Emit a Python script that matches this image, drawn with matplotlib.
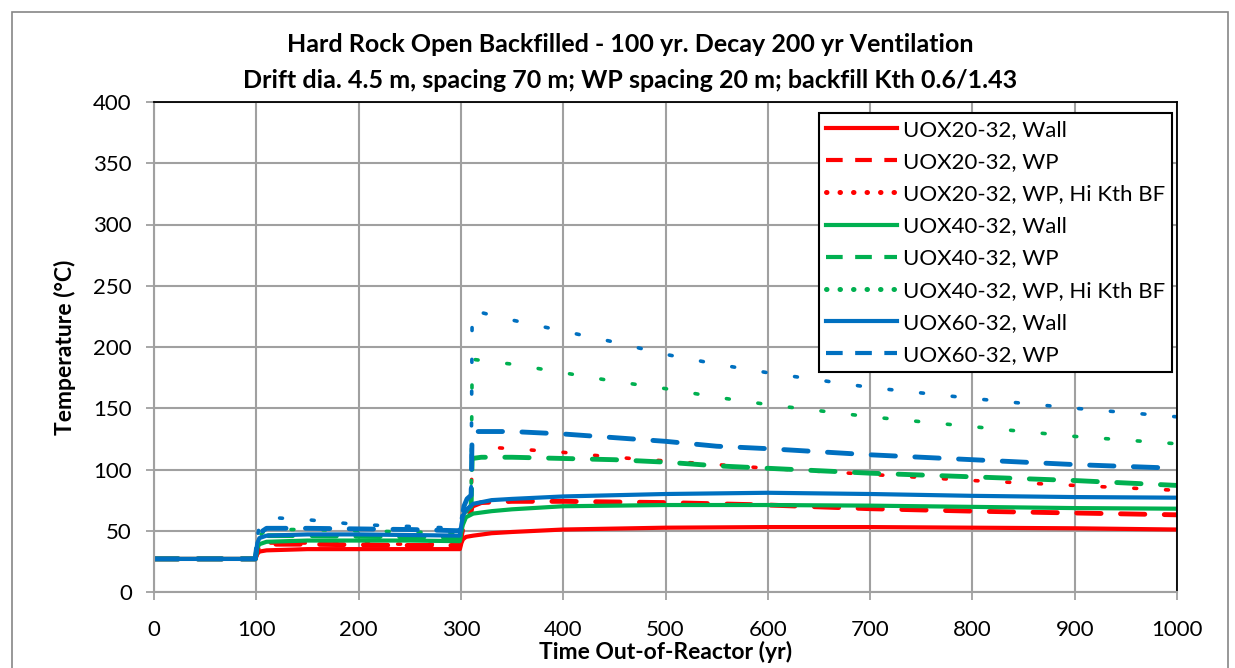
import matplotlib
matplotlib.use("Agg")
from matplotlib import pyplot as plt
from matplotlib.lines import Line2D
from matplotlib.patches import Rectangle

plt.rcParams['font.family'] = ['Lato', 'DejaVu Sans']

# tiempos (yr) y temperaturas (C)
t_wall = [0, 99, 101, 103, 110, 150, 200, 250, 299, 300.5, 302, 305, 312, 330, 350, 400, 500, 600, 700, 800, 900, 1000]
uox20_wall = [27, 27, 31, 33, 34, 35, 35, 35, 35, 40, 43, 45, 46, 48, 49, 51, 52.5, 53, 53, 52.5, 52, 51]
uox40_wall = [27, 27, 36, 39, 41, 42, 42, 42, 41.5, 50, 55, 61, 64, 66, 67.5, 70, 71, 71, 70.5, 69.5, 68.5, 68]
uox60_wall = [27, 27, 40, 44, 46, 47, 47, 46.5, 46, 55, 62, 67, 72, 75, 76, 78, 80, 81, 80, 78.5, 77.5, 77]

t_wp = [0, 99, 101, 103, 110, 150, 200, 250, 299, 301, 303, 306, 310, 311, 320, 350, 400, 450, 500, 550, 600, 700, 800, 900, 1000]
uox20_wp = [27, 27, 34, 37, 39, 39, 38.5, 38, 38, 48, 56, 62, 66, 70, 73, 74, 74, 73.5, 73, 72, 71, 68, 66, 64.5, 63]
uox40_wp = [27, 27, 38, 43, 46, 46, 45.5, 45, 44.5, 55, 62, 67, 70, 109, 110, 110, 109, 108, 106, 103, 101, 97, 94, 91, 87]
uox60_wp = [27, 27, 42, 48, 52, 52, 51.5, 51, 50, 60, 70, 76, 79, 131, 131, 131, 129, 126, 123, 119, 117, 112, 108, 104, 101]

t_hk = [0, 99, 101, 103, 110, 130, 150, 200, 250, 299, 301, 303, 306, 310, 311, 330, 350, 400, 450, 500, 550, 600, 700, 800, 900, 1000]
uox20_hk = [27, 27, 35, 38, 40, 40, 40, 39.5, 39, 39, 48, 55, 60, 63, 119, 118, 117, 114, 110, 107, 104, 101, 96, 91, 87, 83]
uox40_hk = [27, 27, 40, 46, 51, 51, 51, 50, 49, 48, 58, 65, 69, 71, 190, 188, 186, 179, 172, 166, 159, 153, 143, 135, 127, 121]
uox60_hk = [27, 27, 45, 54, 61, 60, 59, 55, 53.5, 52, 62, 72, 77, 80, 230, 226, 222, 213, 204, 194, 186, 179, 167, 158, 150, 143]

rojo = '#FF0000'
verde = '#00B050'
azul = '#0070C0'

dash_wp = (0, (5, 4))
dot_hk = (0, (0.8, 8))

fig = plt.figure(figsize=(12.35, 6.68), dpi=100)
ax = fig.add_axes([154/1235, 76/668, 1023/1235, 490/668])

series = [
    (t_wall, uox20_wall, rojo, 'wall'), (t_wp, uox20_wp, rojo, 'wp'), (t_hk, uox20_hk, rojo, 'hk'),
    (t_wall, uox40_wall, verde, 'wall'), (t_wp, uox40_wp, verde, 'wp'), (t_hk, uox40_hk, verde, 'hk'),
    (t_wall, uox60_wall, azul, 'wall'), (t_wp, uox60_wp, azul, 'wp'), (t_hk, uox60_hk, azul, 'hk'),
]
for t, y, c, tipo in series:
    if tipo == 'wall':
        ax.plot(t, y, color=c, linewidth=3, solid_capstyle='round')
    elif tipo == 'wp':
        ax.plot(t, y, color=c, linewidth=3.5, linestyle=dash_wp, dash_capstyle='round')
    else:
        ax.plot(t, y, color=c, linewidth=2.6, linestyle=dot_hk, dash_capstyle='round')

ax.set_xlim(0, 1000)
ax.set_ylim(0, 400)
ax.set_xticks(range(0, 1001, 100))
ax.set_yticks(range(0, 401, 50))
ax.grid(True, color='#A0A0A0', linewidth=1.5)
ax.set_axisbelow(True)
ax.tick_params(axis='both', labelsize=16, colors='#A0A0A0', labelcolor='black', length=6, width=1.3)
ax.tick_params(axis='x', pad=14)
ax.tick_params(axis='y', pad=10)
for s in ['left', 'bottom']:
    ax.spines[s].set_color('#A0A0A0')
    ax.spines[s].set_linewidth(1.5)
for s in ['top', 'right']:
    ax.spines[s].set_color('black')
    ax.spines[s].set_linewidth(1.3)

ax.set_xlabel('Time Out-of-Reactor (yr)', fontsize=16.5, fontweight='bold', labelpad=1)
ax.set_ylabel('Temperature (°C)', fontsize=16.5, fontweight='bold', labelpad=12)

fig.text(630/1235, 1 - 45/668, 'Hard Rock Open Backfilled - 100 yr. Decay 200 yr Ventilation',
         ha='center', va='center', fontsize=18, fontweight='bold')
fig.text(630/1235, 1 - 80/668, 'Drift dia. 4.5 m, spacing 70 m; WP spacing 20 m; backfill Kth 0.6/1.43',
         ha='center', va='center', fontsize=18, fontweight='bold')

# leyenda (Excel corta la ultima entrada)
handles = [
    Line2D([], [], color=rojo, lw=3),
    Line2D([], [], color=rojo, lw=3, linestyle=(0, (4, 3))),
    Line2D([], [], color=rojo, lw=3.6, linestyle=(0, (0.1, 2.6)), dash_capstyle='round'),
    Line2D([], [], color=verde, lw=3),
    Line2D([], [], color=verde, lw=3, linestyle=(0, (4, 3))),
    Line2D([], [], color=verde, lw=3.6, linestyle=(0, (0.1, 2.6)), dash_capstyle='round'),
    Line2D([], [], color=azul, lw=3),
    Line2D([], [], color=azul, lw=3, linestyle=(0, (4, 3))),
]
labels = ['UOX20-32, Wall', 'UOX20-32, WP', 'UOX20-32, WP, Hi Kth BF',
          'UOX40-32, Wall', 'UOX40-32, WP', 'UOX40-32, WP, Hi Kth BF',
          'UOX60-32, Wall', 'UOX60-32, WP']
leg = ax.legend(handles, labels, loc='upper left', bbox_to_anchor=(819/1235, 1 - 113/668),
                bbox_transform=fig.transFigure, fontsize=16, handlelength=3.2, handletextpad=0.3,
                labelspacing=0.55, borderpad=0.3, borderaxespad=0, fancybox=False, framealpha=1)
leg.get_frame().set_edgecolor('black')
leg.get_frame().set_linewidth(1.5)

# borde del area del grafico
fig.patches.append(Rectangle((12/1235, -0.05), 1216/1235, 1.05 - 12/668, transform=fig.transFigure,
                             fill=False, edgecolor='#868686', linewidth=1.2))

plt.savefig('out.png', dpi=100)
